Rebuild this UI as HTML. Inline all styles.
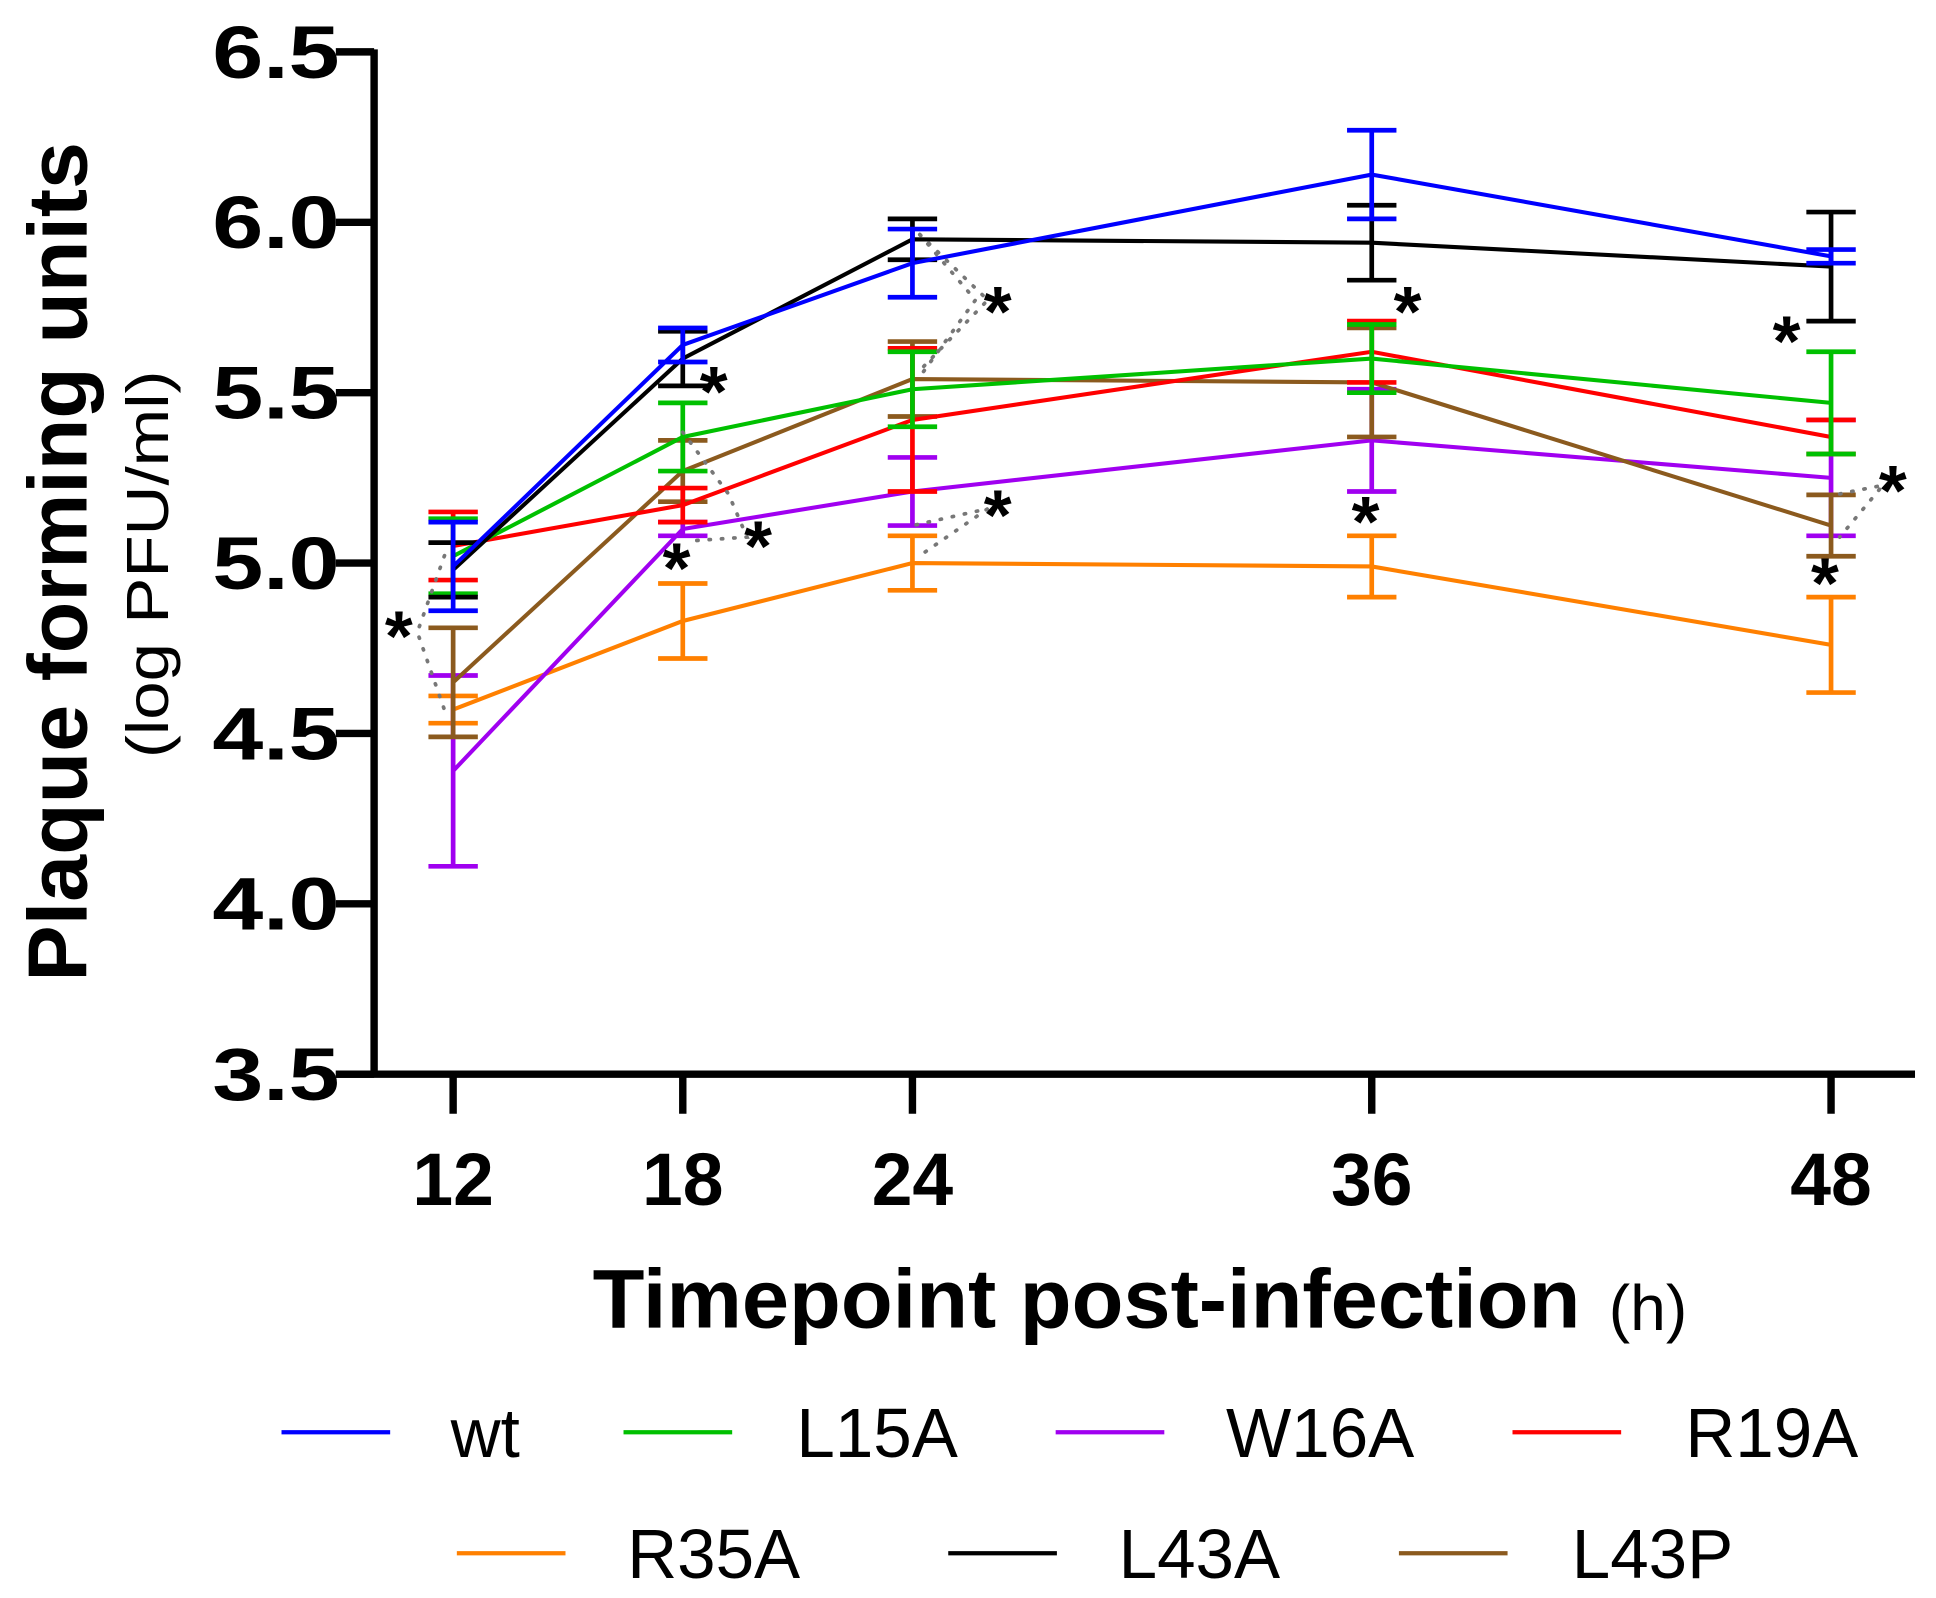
<!DOCTYPE html>
<html><head><meta charset="utf-8"><style>
html,body{margin:0;padding:0;background:#fff;}
svg{display:block;}
text{font-family:"Liberation Sans",Arial,sans-serif;}
</style></head><body>
<svg id="chart" width="1936" height="1598" viewBox="0 0 1568 1294.2" xmlns="http://www.w3.org/2000/svg">
<g id="axes"></g>
<g id="series"></g>
<g id="annot"></g>
<g id="legend"></g>
</svg>
<script>
const times = [12, 18, 24, 36, 48];
const yTicks = [3.5, 4.0, 4.5, 5.0, 5.5, 6.0, 6.5];
const yTickLabels = ["3.5", "4.0", "4.5", "5.0", "5.5", "6.0", "6.5"];
const seriesNames = ["wt", "L15A", "W16A", "R19A", "R35A", "L43A", "L43P"];
const seriesColors = ["#0000ff", "#00c000", "#a000f0", "#ff0000", "#ff8000", "#000000", "#8b5a1e"];
const meanWt = [4.99, 5.64, 5.88, 6.14, 5.90];
const errWt = [0.13, 0.05, 0.10, 0.13, 0.02];
const meanL15A = [5.02, 5.37, 5.51, 5.60, 5.47];
const errL15A = [0.11, 0.10, 0.11, 0.10, 0.15];
const meanW16A = [4.39, 5.10, 5.21, 5.36, 5.25];
const errW16A = [0.28, 0.02, 0.10, 0.15, 0.17];
const meanR19A = [5.05, 5.17, 5.42, 5.62, 5.37];
const errR19A = [0.10, 0.05, 0.21, 0.09, 0.05];
const meanR35A = [4.57, 4.83, 5.00, 4.99, 4.76];
const errR35A = [0.04, 0.11, 0.08, 0.09, 0.14];
const meanL43A = [4.98, 5.60, 5.95, 5.94, 5.87];
const errL43A = [0.08, 0.08, 0.06, 0.11, 0.16];
const meanL43P = [4.65, 5.27, 5.54, 5.53, 5.11];
const errL43P = [0.16, 0.09, 0.11, 0.16, 0.09];
const allMeans = [meanWt, meanL15A, meanW16A, meanR19A, meanR35A, meanL43A, meanL43P];
const allErrs = [errWt, errL15A, errW16A, errR19A, errR35A, errL43A, errL43P];
const drawOrder = [4, 2, 6, 3, 1, 5, 0];

const NS = "http://www.w3.org/2000/svg";
function xS(t){ return 367 + (t - 12) * (1483 - 367) / 36; }
function yS(v){ return 870 - (v - 3.5) * (870 - 42) / 3; }
function mk(tag, parent, attrs){
  const e = document.createElementNS(NS, tag);
  for (const k in attrs) e.setAttribute(k, attrs[k]);
  parent.appendChild(e); return e;
}
const axes = document.getElementById('axes');
let e;
e = mk('line', axes, {x1:303, y1:40, x2:303, y2:872, stroke:'#000', 'stroke-width':6});


e = mk('line', axes, {x1:272, y1:870, x2:1551, y2:870, stroke:'#000', 'stroke-width':6});


yTicks.forEach((v, i) => {
  const y = yS(v);
  let t = mk('line', axes, {x1:272, y1:y, x2:303, y2:y, stroke:'#000', 'stroke-width':6});
  
  
  let l = mk('text', axes, {x:172, y:y + 21, 'font-size':60, 'font-weight':'bold', textLength:103, lengthAdjust:'spacingAndGlyphs'});
  l.textContent = yTickLabels[i];
  
  
});
times.forEach(t0 => {
  const x = xS(t0);
  let t = mk('line', axes, {x1:x, y1:870, x2:x, y2:902, stroke:'#000', 'stroke-width':6});
  
  
  let l = mk('text', axes, {x:x - 33, y:976, 'font-size':60, 'font-weight':'bold', textLength:66, lengthAdjust:'spacingAndGlyphs'});
  l.textContent = String(t0);
  
  
});
e = mk('text', axes, {x:-795, y:70, transform:'rotate(-90)', 'font-size':68, 'font-weight':'bold', textLength:680, lengthAdjust:'spacingAndGlyphs'});
e.textContent = 'Plaque forming units';


e = mk('text', axes, {x:-614, y:136, transform:'rotate(-90)', 'font-size':48, textLength:314, lengthAdjust:'spacingAndGlyphs'});
e.textContent = '(log PFU/ml)';


e = mk('text', axes, {x:480, y:1075, 'font-size':68, 'font-weight':'bold', textLength:800, lengthAdjust:'spacingAndGlyphs'});
e.textContent = 'Timepoint post-infection';


e = mk('text', axes, {x:1303, y:1077, 'font-size':52});
e.textContent = '(h)';



const sg = document.getElementById('series');
drawOrder.forEach(si => {
  const g = mk('g', sg, {});
  
  
  const c = seriesColors[si];
  const m = allMeans[si], er = allErrs[si];
  const pts = times.map((t, i) => xS(t) + ',' + yS(m[i])).join(' ');
  let p = mk('polyline', g, {points:pts, fill:'none', stroke:c, 'stroke-width':3.3});
  
  
  times.forEach((t, i) => {
    const x = xS(t), y1 = yS(m[i] + er[i]), y2 = yS(m[i] - er[i]);
    const b = mk('path', g, {d:`M${x},${y1}V${y2}M${x-20},${y1}H${x+20}M${x-20},${y2}H${x+20}`, stroke:c, 'stroke-width':3.8, fill:'none'});
    
    
  });
});

const an = document.getElementById('annot');
const dots = [
  [[360,450],[338,512],[360,575]],
  [[553,350],[590,400],[605,435],[560,438]],
  [[745,190],[800,243],[745,300]],
  [[745,190],[790,243],[745,305]],
  [[742,425],[800,412],[745,450]],
  [[1490,400],[1525,393],[1490,435]]
];
dots.forEach(d => {
  const p = mk('polyline', an, {points:d.map(q => q.join(',')).join(' '), fill:'none', stroke:'#777', 'stroke-width':3, 'stroke-dasharray':'1 9', 'stroke-linecap':'round'});
  
  
});
const stars = [[323,535],[578,337],[548,480],[614,462],[808,272],[808,437],[1140,272],[1106,442],[1447,296],[1478,492],[1533,417]];
stars.forEach(s => {
  const t = mk('text', an, {x:s[0], y:s[1], 'text-anchor':'middle', 'font-size':58, 'font-weight':'bold'});
  t.textContent = '*';
  
  
});

const lg = document.getElementById('legend');
const legPos = [[228,1160,365],[505,1160,645],[855,1160,993],[1225,1160,1365],[370,1258,508],[768,1258,906],[1133,1258,1273]];
seriesNames.forEach((n, i) => {
  const [lx, ly, tx] = legPos[i];
  const g = mk('g', lg, {});
  
  
  mk('line', g, {x1:lx, y1:ly, x2:lx + 88, y2:ly, stroke:seriesColors[i], 'stroke-width':3.5});
  const t = mk('text', g, {x:tx, y:ly + 20, 'font-size':56});
  t.textContent = n;
});
</script>
</body></html>
